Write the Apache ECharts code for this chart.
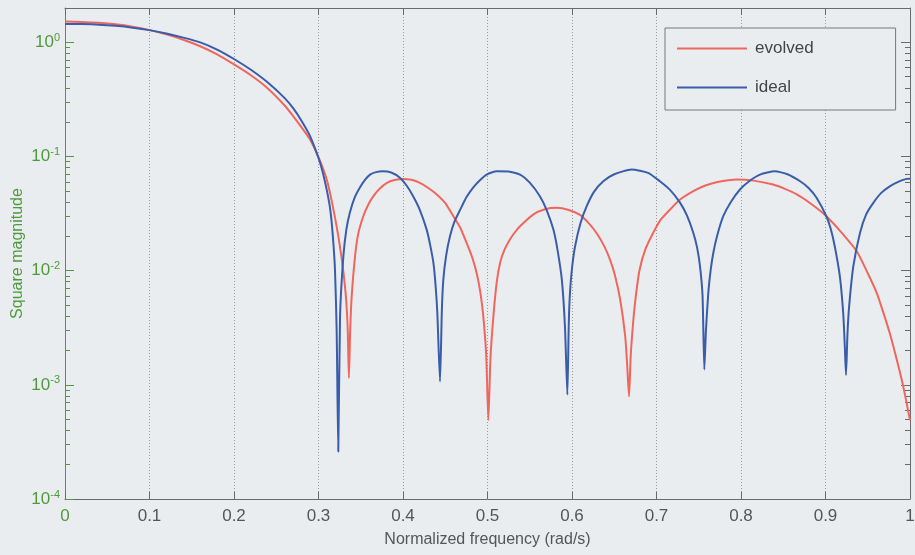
<!DOCTYPE html>
<html>
<head>
<meta charset="utf-8">
<style>
  html, body { margin: 0; padding: 0; background: #eaedf0; }
  #main { width: 915px; height: 555px; }
</style>
<script src="https://cdn.jsdelivr.net/npm/echarts@6/dist/echarts.min.js"></script>
</head>
<body>
<div id="main"></div>
<script>
// values (normalized frequency, square magnitude)
var freqEvolved = [0, 0.02, 0.04, 0.06, 0.08, 0.10, 0.12, 0.14, 0.16, 0.18, 0.20, 0.22, 0.24, 0.26, 0.27, 0.28, 0.29, 0.30,
  0.31, 0.32, 0.327, 0.332, 0.3345, 0.336,
  0.3375, 0.3393, 0.3432, 0.347, 0.353, 0.359, 0.365, 0.372, 0.381, 0.390, 0.40, 0.41, 0.42, 0.43, 0.44, 0.45,
  0.4596, 0.4675, 0.4753, 0.482, 0.4872, 0.4915, 0.495, 0.4985, 0.501,
  0.5035, 0.507, 0.511, 0.515, 0.52, 0.526, 0.532, 0.5385, 0.554, 0.568, 0.582, 0.596, 0.609, 0.62, 0.629, 0.638, 0.645,
  0.651, 0.657, 0.663, 0.6655, 0.6675,
  0.6695, 0.6726, 0.6755, 0.68, 0.687, 0.696, 0.705, 0.716, 0.728, 0.7436, 0.757, 0.771, 0.795, 0.815, 0.838,
  0.852, 0.866, 0.884, 0.901, 0.918, 0.937, 0.95, 0.9606, 0.968, 0.976, 0.984, 0.992, 1.0];
var magEvolved = [1.52, 1.51, 1.485, 1.44, 1.37, 1.28, 1.175, 1.055, 0.925, 0.785, 0.641, 0.515, 0.395, 0.28, 0.226, 0.18, 0.141, 0.099,
  0.062, 0.028, 0.0135, 0.0065, 0.0032, 0.00115,
  0.003, 0.006, 0.0133, 0.021, 0.030, 0.038, 0.045, 0.052, 0.0588, 0.0622, 0.0637, 0.0625, 0.0588, 0.053, 0.0465, 0.039,
  0.030, 0.024, 0.0175, 0.013, 0.0095, 0.0065, 0.004, 0.0018, 0.00049,
  0.0017, 0.004, 0.008, 0.0118, 0.0152, 0.0185, 0.0215, 0.0245, 0.031, 0.0345, 0.0355, 0.034, 0.031, 0.026, 0.0214, 0.0165, 0.0125,
  0.009, 0.0056, 0.00265, 0.0014, 0.00079,
  0.0018, 0.0037, 0.006, 0.0102, 0.0155, 0.0214, 0.028, 0.0343, 0.042, 0.0497, 0.0555, 0.0596, 0.0628, 0.0615, 0.0568,
  0.052, 0.0465, 0.038, 0.030, 0.022, 0.0148, 0.0095, 0.0064, 0.0044, 0.00284, 0.0017, 0.00097, 0.00049];

var freqIdeal = [0, 0.02, 0.04, 0.06, 0.08, 0.10, 0.12, 0.14, 0.16, 0.18, 0.20, 0.22, 0.24, 0.26, 0.27, 0.28, 0.29, 0.30,
  0.305, 0.31, 0.314, 0.317, 0.3195, 0.3215, 0.3234,
  0.3255, 0.3294, 0.333, 0.337, 0.343, 0.349, 0.355, 0.361, 0.368, 0.376, 0.386, 0.396, 0.404, 0.412, 0.42,
  0.428, 0.432, 0.436, 0.4385, 0.4406, 0.4438,
  0.446, 0.4477, 0.451, 0.4556, 0.461, 0.4675, 0.475, 0.483, 0.491, 0.499, 0.511, 0.525, 0.5385, 0.55, 0.562,
  0.57, 0.578, 0.583, 0.588, 0.5917, 0.5945,
  0.5962, 0.5976, 0.60, 0.6036, 0.61, 0.6174, 0.626, 0.637, 0.65, 0.6706, 0.69, 0.704, 0.716, 0.728, 0.736,
  0.7436, 0.748, 0.7515, 0.7545, 0.7566,
  0.7585, 0.7613, 0.764, 0.7672, 0.772, 0.779, 0.788, 0.7988, 0.81, 0.8225, 0.84, 0.855, 0.87, 0.88, 0.8896,
  0.901, 0.906, 0.911, 0.917, 0.921, 0.9228, 0.9243,
  0.926, 0.928, 0.9329, 0.9408, 0.948, 0.9566, 0.966, 0.976, 0.986, 0.996, 1.0];
var magIdeal = [1.45, 1.445, 1.43, 1.395, 1.345, 1.28, 1.195, 1.10, 1.00, 0.865, 0.715, 0.575, 0.445, 0.325, 0.265, 0.205, 0.151, 0.097,
  0.073, 0.050, 0.034, 0.020, 0.0102, 0.003, 0.00026,
  0.004, 0.0133, 0.023, 0.032, 0.044, 0.0535, 0.0625, 0.0695, 0.073, 0.0743, 0.0725, 0.0655, 0.056, 0.0449, 0.034,
  0.0229, 0.017, 0.0117, 0.0075, 0.0043, 0.00107,
  0.0045, 0.0083, 0.0135, 0.020, 0.027, 0.034, 0.044, 0.0535, 0.062, 0.0695, 0.0743, 0.074, 0.0695, 0.059, 0.0449,
  0.034, 0.0229, 0.015, 0.0083, 0.0032, 0.00082,
  0.0035, 0.0064, 0.0105, 0.0163, 0.026, 0.0367, 0.049, 0.0607, 0.070, 0.0769, 0.072, 0.0607, 0.051, 0.0393, 0.0305,
  0.0214, 0.016, 0.0109, 0.006, 0.00136,
  0.003, 0.0064, 0.010, 0.0143, 0.0205, 0.030, 0.040, 0.0514, 0.061, 0.0695, 0.0743, 0.070, 0.0607, 0.053, 0.0434,
  0.030, 0.0235, 0.0163, 0.0089, 0.0042, 0.0022, 0.00122,
  0.0028, 0.0049, 0.0109, 0.0214, 0.031, 0.0393, 0.048, 0.0548, 0.060, 0.0637, 0.064];

var yDecades = [1e-4, 1e-3, 1e-2, 1e-1, 1];
var seriesNames = ['evolved', 'ideal'];

var yMinor = [];
yDecades.forEach(function (d) {
  for (var k = 2; k <= 9; k++) {
    if (d * k < 2) yMinor.push(d * k);
  }
});

function pairs(xs, ys) {
  return xs.map(function (x, i) { return [x, ys[i]]; });
}

var FONT = 'Liberation Sans, Arial, sans-serif';
var GREEN = '#4e9a3a';
var GREY = '#555';
var AXIS = '#6a6a6a';
var RED = '#f0665c';
var BLUE = '#3a5daa';

var chart = echarts.init(document.getElementById('main'));

function logAxis(pos, opts) {
  return Object.assign({
    type: 'log', logBase: 10, min: 1e-4, max: 2, position: pos,
    axisLine: { show: true, lineStyle: { color: AXIS, width: 1 } },
    axisTick: { show: true, inside: true, length: 5, customValues: yMinor, lineStyle: { color: AXIS } },
    axisLabel: { show: false },
    splitLine: { show: false }
  }, opts);
}

var option = {
  backgroundColor: '#eaedf0',
  animation: false,
  textStyle: { fontFamily: FONT },
  grid: { left: 65, right: 5, top: 8, bottom: 56, outerBoundsMode: 'none', containLabel: false },
  legend: {
    orient: 'vertical', left: 665, top: 28,
    padding: [12, 82, 14, 12], itemGap: 22, itemWidth: 70, itemHeight: 2,
    borderColor: '#777', borderWidth: 1, backgroundColor: '#eaedf0',
    icon: 'rect',
    textStyle: { fontSize: 17, color: '#444', fontFamily: FONT, padding: [0, 0, 0, 3] },
    data: seriesNames
  },
  xAxis: [{
    type: 'value', min: 0, max: 1, interval: 0.1, position: 'bottom',
    name: 'Normalized frequency (rad/s)', nameLocation: 'middle', nameGap: 33,
    nameTextStyle: { fontSize: 16, color: GREY, fontFamily: FONT },
    axisLine: { show: true, lineStyle: { color: AXIS } },
    axisTick: { show: true, inside: true, length: 7, lineStyle: { color: AXIS } },
    axisLabel: {
      fontSize: 17, margin: 9, fontFamily: FONT,
      color: function (v) { return Number(v) === 0 ? GREEN : GREY; },
      formatter: function (v) { return String(Math.round(v * 10) / 10); }
    },
    splitLine: { show: true, lineStyle: { color: '#999', type: [1, 2], width: 1 } }
  }, {
    type: 'value', min: 0, max: 1, interval: 0.1, position: 'top',
    axisLine: { show: true, lineStyle: { color: AXIS } },
    axisTick: { show: true, inside: true, length: 7, lineStyle: { color: AXIS } },
    axisLabel: { show: false },
    splitLine: { show: false }
  }],
  yAxis: [
    logAxis('left', {
      name: 'Square magnitude', nameLocation: 'middle', nameGap: 39,
      nameTextStyle: { fontSize: 16, color: GREEN, fontFamily: FONT },
      axisLine: { show: true, lineStyle: { color: GREEN, width: 1 } },
      axisTick: { show: true, inside: true, length: 5, customValues: yMinor, lineStyle: { color: GREEN } }
    }),
    logAxis('left', {
      axisLine: { show: false },
      axisTick: { show: true, inside: true, length: 9, customValues: yDecades, lineStyle: { color: GREEN } },
      axisLabel: {
        show: true, customValues: yDecades, margin: 5, color: GREEN,
        formatter: function (v) {
          var e = Math.round(Math.log10(v));
          return '{b|10}{s|' + e + '}';
        },
        rich: {
          b: { fontSize: 17, color: GREEN, fontFamily: FONT, lineHeight: 20 },
          s: { fontSize: 11, color: GREEN, fontFamily: FONT, lineHeight: 12, verticalAlign: 'top' }
        }
      }
    }),
    logAxis('right', {}),
    logAxis('right', {
      axisLine: { show: false },
      axisTick: { show: true, inside: true, length: 9, customValues: yDecades, lineStyle: { color: AXIS } }
    })
  ],
  series: [{
    name: seriesNames[0], type: 'line', xAxisIndex: 0, yAxisIndex: 0,
    data: pairs(freqEvolved, magEvolved),
    symbol: 'none', smooth: 0.2,
    lineStyle: { color: RED, width: 2 }, itemStyle: { color: RED }
  }, {
    name: seriesNames[1], type: 'line', xAxisIndex: 0, yAxisIndex: 0,
    data: pairs(freqIdeal, magIdeal),
    symbol: 'none', smooth: 0.2,
    lineStyle: { color: BLUE, width: 2 }, itemStyle: { color: BLUE }
  }]
};

chart.setOption(option);
</script>
</body>
</html>
